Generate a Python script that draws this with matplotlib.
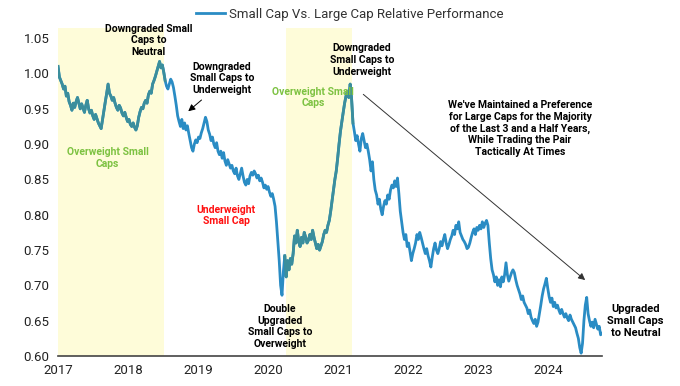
import matplotlib.pyplot as plt
import numpy as np

# relative performance, roughly every two weeks from Jan 2017 to Oct 2024
rel_perf = [
    1.010, 0.995, 0.990, 0.985, 0.978, 0.982, 0.968, 0.972, 0.960, 0.955,
    0.948, 0.958, 0.952, 0.960, 0.966, 0.958, 0.950, 0.957, 0.951, 0.945,
    0.955, 0.962, 0.950, 0.944, 0.948, 0.940, 0.935, 0.942, 0.936, 0.930,
    0.926, 0.922, 0.935, 0.948, 0.960, 0.972, 0.985, 0.972, 0.968, 0.962,
    0.966, 0.958, 0.952, 0.948, 0.955, 0.951, 0.944, 0.940, 0.945, 0.938,
    0.932, 0.935, 0.928, 0.925, 0.930, 0.924, 0.920, 0.926, 0.938, 0.946,
    0.952, 0.950, 0.958, 0.962, 0.958, 0.970, 0.975, 0.972, 0.985, 0.990,
    0.996, 1.003, 1.010, 1.017, 1.008, 1.012, 1.002, 0.990, 0.982, 0.978,
    0.985, 0.992, 0.988, 0.980, 0.968, 0.955, 0.940, 0.932, 0.925, 0.935,
    0.922, 0.930, 0.920, 0.926, 0.915, 0.905, 0.895, 0.890, 0.900, 0.906,
    0.902, 0.910, 0.908, 0.916, 0.922, 0.930, 0.938, 0.932, 0.920, 0.914,
    0.905, 0.910, 0.900, 0.895, 0.902, 0.890, 0.885, 0.890, 0.880, 0.888,
    0.876, 0.870, 0.878, 0.872, 0.866, 0.870, 0.862, 0.858, 0.866, 0.855,
    0.850, 0.858, 0.866, 0.855, 0.846, 0.842, 0.850, 0.844, 0.855, 0.860,
    0.856, 0.862, 0.858, 0.852, 0.856, 0.848, 0.852, 0.846, 0.838, 0.842,
    0.836, 0.840, 0.832, 0.826, 0.830, 0.822, 0.812, 0.790, 0.762, 0.735,
    0.700, 0.686, 0.720, 0.742, 0.712, 0.735, 0.722, 0.738, 0.730, 0.745,
    0.770, 0.760, 0.778, 0.762, 0.755, 0.768, 0.760, 0.775, 0.768, 0.760,
    0.764, 0.772, 0.765, 0.778, 0.768, 0.760, 0.752, 0.758, 0.750, 0.756,
    0.762, 0.772, 0.778, 0.775, 0.785, 0.792, 0.805, 0.820, 0.835, 0.850,
    0.862, 0.880, 0.900, 0.918, 0.932, 0.945, 0.958, 0.968, 0.975, 0.966,
    0.985, 0.965, 0.930, 0.918, 0.905, 0.912, 0.900, 0.890, 0.908, 0.915,
    0.905, 0.895, 0.900, 0.890, 0.878, 0.862, 0.875, 0.850, 0.835, 0.828,
    0.815, 0.822, 0.808, 0.800, 0.812, 0.820, 0.815, 0.828, 0.822, 0.835,
    0.842, 0.838, 0.848, 0.840, 0.852, 0.830, 0.805, 0.790, 0.775, 0.765,
    0.772, 0.755, 0.760, 0.748, 0.735, 0.745, 0.752, 0.760, 0.772, 0.765,
    0.775, 0.768, 0.760, 0.752, 0.745, 0.752, 0.742, 0.735, 0.726, 0.740,
    0.752, 0.760, 0.750, 0.745, 0.752, 0.762, 0.756, 0.765, 0.772, 0.760,
    0.752, 0.758, 0.765, 0.770, 0.778, 0.772, 0.785, 0.780, 0.790, 0.775,
    0.770, 0.765, 0.762, 0.758, 0.752, 0.754, 0.760, 0.768, 0.775, 0.780,
    0.772, 0.782, 0.778, 0.785, 0.780, 0.790, 0.782, 0.788, 0.792, 0.785,
    0.760, 0.738, 0.722, 0.715, 0.705, 0.712, 0.700, 0.708, 0.698, 0.712,
    0.705, 0.715, 0.732, 0.715, 0.706, 0.712, 0.718, 0.722, 0.718, 0.708,
    0.700, 0.694, 0.688, 0.680, 0.685, 0.676, 0.672, 0.668, 0.660, 0.665,
    0.655, 0.650, 0.646, 0.652, 0.642, 0.648, 0.660, 0.672, 0.685, 0.695,
    0.702, 0.710, 0.696, 0.684, 0.676, 0.682, 0.670, 0.676, 0.668, 0.672,
    0.665, 0.660, 0.666, 0.660, 0.655, 0.660, 0.654, 0.650, 0.658, 0.652,
    0.648, 0.644, 0.640, 0.632, 0.625, 0.612, 0.604, 0.618, 0.650, 0.672,
    0.683, 0.660, 0.650, 0.642, 0.648, 0.640, 0.652, 0.645, 0.638, 0.642,
    0.630, 0.632,
]
start_year = 2017.0
end_year = 2024.77
years = np.linspace(start_year, end_year, len(rel_perf))

# overweight small cap periods (shaded)
overweight = [(2017.0, 2018.52), (2020.25, 2021.2)]
year_ticks = [2017, 2018, 2019, 2020, 2021, 2022, 2023, 2024]
y_ticks = [0.60, 0.65, 0.70, 0.75, 0.80, 0.85, 0.90, 0.95, 1.00, 1.05]

plt.rcParams['font.family'] = ['Roboto', 'DejaVu Sans']

fig = plt.figure(figsize=(6.8, 3.86), dpi=100)
ax = fig.add_axes([0.0853, 0.0777, 0.8, 0.849])

blue = '#2a8cc4'
teal = '#3b8e9c'
vals = np.array(rel_perf)
in_ow = np.zeros(len(years), dtype=bool)
for a, b in overweight:
    ax.axvspan(a, b, color='#fefcd9', lw=0, zorder=0)
    in_ow |= (years >= a - 0.02) & (years <= b + 0.02)

ax.plot(years, vals, color=blue, lw=2.0, zorder=2,
        label='Small Cap Vs. Large Cap Relative Performance')
ax.plot(years, np.where(in_ow, vals, np.nan), color=teal, lw=2.0, zorder=3)

ax.set_xlim(start_year, end_year)
ax.set_ylim(0.60, 1.064)
ax.set_xticks(year_ticks)
ax.set_xticklabels([str(y) for y in year_ticks])
ax.set_yticks(y_ticks)
ax.set_yticklabels([f'{v:.2f}' for v in y_ticks])
ax.tick_params(length=0, labelsize=9.5, colors='#222222', pad=6)
for s in ['top', 'right', 'left']:
    ax.spines[s].set_visible(False)
ax.spines['bottom'].set_color('#444444')
ax.spines['bottom'].set_linewidth(1.2)

leg = fig.legend(loc='upper center', bbox_to_anchor=(0.515, 1.01), frameon=False,
                 fontsize=9.5, handlelength=2.2, handletextpad=0.3)
for t in leg.get_texts():
    t.set_color('#333333')

fs = 7.5
kw = dict(ha='center', va='center', fontweight='bold', fontsize=fs, linespacing=1.2)
ax.text(2018.29, 1.047, 'Downgraded Small\nCaps to\nNeutral', color='black', **kw)
ax.text(2019.34, 0.993, 'Downgraded\nSmall Caps to\nUnderweight', color='black', **kw)
ax.annotate('', xy=(2018.83, 0.944), xytext=(2019.08, 0.965),
            arrowprops=dict(arrowstyle='-|>', color='black', lw=0.7, mutation_scale=10))
ax.text(2017.71, 0.88, 'Overweight Small\nCaps', color='#7dc242', **kw)
ax.text(2019.4, 0.799, 'Underweight\nSmall Cap', color='#ff1010', **kw)
ax.text(2020.17, 0.642, 'Double\nUpgraded\nSmall Caps to\nOverweight', color='black', **kw)
ax.text(2021.34, 1.019, 'Downgraded\nSmall Caps to\nUnderweight', color='black', **kw)
ax.text(2020.64, 0.966, 'Overweight Small\nCaps', color='#7dc242', **kw)
ax.annotate('', xy=(2024.56, 0.705), xytext=(2021.33, 0.973),
            arrowprops=dict(arrowstyle='-|>', color='#333333', lw=0.7, mutation_scale=10))
ax.text(2023.6, 0.922, "We've Maintained a Preference\nfor Large Caps for the Majority\n"
        "of the Last 3 and a Half Years,\nWhile Trading the Pair\nTactically At Times",
        color='black', **kw)
ax.text(2025.25, 0.65, 'Upgraded\nSmall Caps\nto Neutral', color='black', ha='center',
        va='center', fontweight='bold', fontsize=8, linespacing=1.25)

fig.savefig('out.png', dpi=100)
